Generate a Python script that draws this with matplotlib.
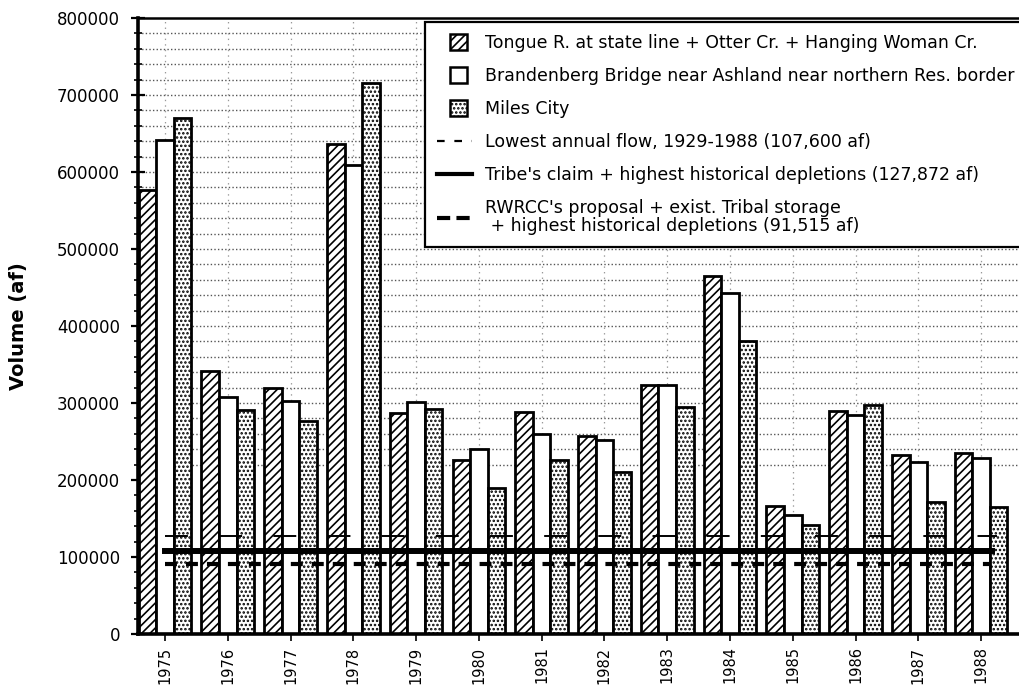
import matplotlib
matplotlib.use("Agg")
import matplotlib.pyplot as plt
import matplotlib.patches as mpatches
from matplotlib.lines import Line2D
from matplotlib.legend_handler import HandlerPatch
from matplotlib.ticker import MultipleLocator, FuncFormatter
import numpy as np

plt.rcParams['font.family'] = ['DejaVu Sans']
plt.rcParams['hatch.linewidth'] = 1.2
plt.rcParams['lines.scale_dashes'] = False

# annual volumes (acre-feet)
years = [1975, 1976, 1977, 1978, 1979, 1980, 1981, 1982, 1983, 1984, 1985, 1986, 1987, 1988]
tongue_state_line = [576000, 342000, 319000, 637000, 287000, 226000, 288000,
                     257000, 324000, 465000, 166000, 290000, 233000, 235000]
brandenberg = [642000, 308000, 302000, 609000, 301000, 240000, 260000,
               252000, 324000, 443000, 155000, 284000, 224000, 228000]
miles_city = [670000, 291000, 276000, 715000, 292000, 189000, 226000,
              211000, 295000, 380000, 142000, 298000, 172000, 165000]

# reference levels (af)
lowest_flow = 107600
tribe_claim = 127872
rwrcc = 91515

series_labels = ["Tongue R. at state line + Otter Cr. + Hanging Woman Cr.",
                 "Brandenberg Bridge near Ashland near northern Res. border",
                 "Miles City"]
line_labels = ["Lowest annual flow, 1929-1988 (107,600 af)",
               "Tribe's claim + highest historical depletions (127,872 af)",
               "RWRCC's proposal + exist. Tribal storage\n + highest historical depletions (91,515 af)"]

x = np.array(years)
w = 0.28

fig = plt.figure(figsize=(10.2, 6.9), dpi=100)
ax = fig.add_axes([0.1353, 0.0812, 0.8647, 0.8927])

# grid
ax.hlines(np.arange(220000, 800000, 20000), 1974.57, 1988.7, colors='#555555',
          linestyles=(0, (1, 1.6)), linewidth=1.0, zorder=0)
ax.vlines(x, 0, 800000, colors='#999999', linestyles=(0, (1, 3)), linewidth=0.9, zorder=0)

# bars
ax.bar(x - w, tongue_state_line, w, color='white', edgecolor='black', hatch='////',
       linewidth=2.0, zorder=2)
ax.bar(x, brandenberg, w, color='white', edgecolor='black', linewidth=2.0, zorder=2)
ax.bar(x + w, miles_city, w, color='white', edgecolor='black', hatch='....',
       linewidth=2.0, zorder=2)

# reference lines as they appear in the plot
ax.plot([1975, 1988.25], [tribe_claim, tribe_claim], color='black', linewidth=1.4,
        dashes=(16.5, 22.5), zorder=3)
ax.plot([1975, 1988.18], [lowest_flow, lowest_flow], color='black', linewidth=4.3, zorder=3)
ax.plot([1975, 1988.15], [rwrcc, rwrcc], color='black', linewidth=3.0,
        dashes=(8.6, 6.5), zorder=3)

ax.set_xlim(1974.57, 1988.62)
ax.set_ylim(0, 800000)
ax.set_xticks(years)
ax.set_xticklabels([str(y) for y in years], rotation=90, fontsize=10.5)
ax.yaxis.set_major_locator(MultipleLocator(100000))
ax.yaxis.set_minor_locator(MultipleLocator(20000))
ax.yaxis.set_major_formatter(FuncFormatter(lambda v, p: f"{int(v)}"))
ax.tick_params(axis='y', which='major', direction='inout', length=10, width=1.6,
               labelsize=12, pad=8)
ax.tick_params(axis='y', which='minor', direction='inout', length=6, width=1.2)
ax.tick_params(axis='x', direction='out', length=5, width=1.2, pad=4)

ax.spines['right'].set_visible(False)
ax.spines['left'].set_linewidth(2.6)
ax.spines['bottom'].set_linewidth(2.6)
ax.spines['top'].set_linewidth(1.8)

ax.set_ylabel("Volume (af)", fontsize=14, fontweight='bold', labelpad=21)


class SquareHandler(HandlerPatch):
    def create_artists(self, legend, orig_handle, xdescent, ydescent, width, height,
                       fontsize, trans):
        s = 12.0
        r = mpatches.Rectangle((width / 2 - s / 2 - xdescent + 3, -ydescent + (height - s) / 2), s, s,
                               facecolor='white', edgecolor='black',
                               hatch=orig_handle.get_hatch(), linewidth=1.8, transform=trans)
        return [r]


handles = [
    mpatches.Patch(facecolor='white', edgecolor='black', hatch='////'),
    mpatches.Patch(facecolor='white', edgecolor='black'),
    mpatches.Patch(facecolor='white', edgecolor='black', hatch='....'),
    Line2D([], [], color='black', linewidth=1.6, dashes=(5.5, 7)),
    Line2D([], [], color='black', linewidth=3.0),
    Line2D([], [], color='black', linewidth=3.0, dashes=(9.5, 4.5)),
]
leg = fig.legend(handles, series_labels + line_labels, loc='upper left',
                 bbox_to_anchor=(0.4167, 0.968), borderaxespad=0, fontsize=12.5,
                 frameon=True, fancybox=False, edgecolor='black', framealpha=1,
                 handlelength=2.0, handletextpad=0.75, labelspacing=0.86, borderpad=0.7,
                 handler_map={mpatches.Patch: SquareHandler()})
leg.get_frame().set_linewidth(1.6)
leg.get_texts()[-1].set_linespacing(1.0)

fig.savefig("out.png", dpi=100)
